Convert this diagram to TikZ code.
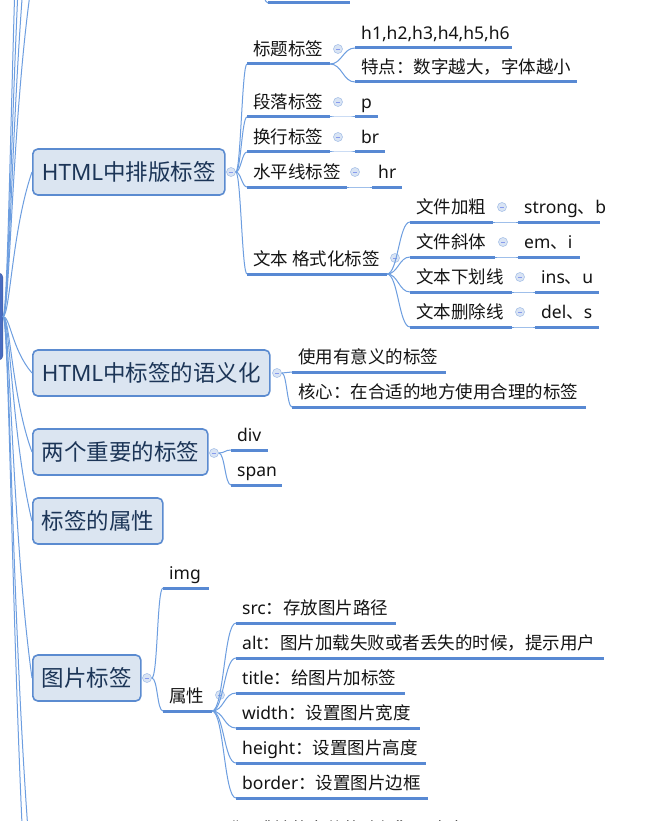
\documentclass[tikz,border=0pt]{standalone}
\usepackage{fontspec}
\setmainfont{Noto Sans}
\newfontfamily\cjkf{Noto Sans CJK SC}
\newcommand\zh[1]{{\cjkf #1}}
\usetikzlibrary{calc}
\definecolor{topicfill}{HTML}{DBE5F1}
\definecolor{topicborder}{HTML}{5B8BD0}
\definecolor{ulblue}{HTML}{5889D3}
\definecolor{connblue}{HTML}{6D9EE0}
\definecolor{topictext}{HTML}{1C3557}
\definecolor{leaftext}{HTML}{141414}
\definecolor{rootblue}{HTML}{4A6CC0}
\definecolor{knobfill}{HTML}{D9E4F4}
\definecolor{knobline}{HTML}{A9C2E8}
\tikzset{
  topic/.style={draw=topicborder, line width=1.6pt, fill=topicfill, rounded corners=5pt,
    text=topictext, font=\fontsize{22.5pt}{26pt}\selectfont, inner sep=0pt, anchor=west, minimum height=46pt},
  leaf/.style={anchor=base west, inner sep=0pt, text=leaftext, font=\fontsize{17.5pt}{21pt}\selectfont},
  ul/.style={draw=ulblue, line width=3pt},
  conn/.style={draw=connblue, line width=1pt},
  knob/.style={circle, draw=knobline, fill=knobfill, line width=0.6pt, minimum size=9pt, inner sep=0pt,
    path picture={\draw[knobline!80!blue, line width=0.6pt]
      ([xshift=-2.2pt]path picture bounding box.center) -- ([xshift=2.2pt]path picture bounding box.center);}}
}
\newcommand\leaf[5]{%
  \coordinate (#1s) at (#2,#4);
  \coordinate (#1e) at (#3,#4);
  \draw[ul] (#1s) -- (#1e);
  \node[leaf] (#1) at ($(#1s)+(6,-8.5)$) {#5};
}
\newcommand\cnx[3]{\draw[conn] (#1) .. controls +(#3,0) and +(-#3,0) .. (#2);}
\newcommand\knob[2]{\node[knob] (#1) at (#2) {};}
\begin{document}
\begin{tikzpicture}[x=1pt,y=-1pt]
\useasboundingbox (0,0) rectangle (664,821);
\clip (0,0) rectangle (664,821);
\fill[white] (0,0) rectangle (664,821);

% root (mostly off-canvas)
\node[draw=rootblue!85!black, fill=rootblue, rounded corners=4pt, minimum width=70pt, minimum height=87pt, anchor=east, inner sep=0pt] (root) at (3,316.5) {};

% off-canvas topics (only connectors visible)
\coordinate (ta) at (32,-20);
\coordinate (tb) at (32,-110);
\coordinate (tc) at (32,-230);
\coordinate (td) at (32,-400);
\coordinate (te) at (32,880);
\coordinate (tf) at (32,1000);

% main topics
\node[topic, minimum width=192pt] (t1) at (32,172) {HTML\zh{中排版标签}};
\node[topic, minimum width=237pt] (t2) at (32,373) {HTML\zh{中标签的语义化}};
\node[topic, minimum width=175pt] (t3) at (32,452) {\zh{两个重要的标签}};
\node[topic, minimum width=130pt] (t4) at (32,521) {\zh{标签的属性}};
\node[topic, minimum width=108pt] (t5) at (32,678) {\zh{图片标签}};

% root connectors
\draw[conn] (root.east) .. controls (10,316) and (12,114) .. (ta);
\draw[conn] (root.east) .. controls (10,316) and (12,60) .. (tb);
\draw[conn] (root.east) .. controls (10,316) and (12,-12) .. (tc);
\draw[conn] (root.east) .. controls (10,316) and (12,-114) .. (td);
\draw[conn] (root.east) .. controls (10,316) and (12,230) .. (t1.west);
\draw[conn] (root.east) .. controls (10,316) and (12,350) .. (t2.west);
\draw[conn] (root.east) .. controls (10,316) and (12,398) .. (t3.west);
\draw[conn] (root.east) .. controls (10,316) and (12,439) .. (t4.west);
\draw[conn] (root.east) .. controls (10,316) and (12,533) .. (t5.west);
\draw[conn] (root.east) .. controls (10,316) and (12,654) .. (te);
\draw[conn] (root.east) .. controls (10,316) and (12,726) .. (tf);

% last child of topic above (cut off)
\coordinate (prevp) at (250,-70);
\leaf{pv}{268}{350}{3}{}
\draw[conn] (prevp) .. controls (262,-30) and (262,3) .. (pvs);

% ---- topic 1 ----
\knob{k1}{231,172}
\leaf{l11}{247}{330}{64}{\zh{标题标签}}
\leaf{l12}{247}{330}{117}{\zh{段落标签}}
\leaf{l13}{247}{330}{152}{\zh{换行标签}}
\leaf{l14}{247}{347}{187}{\zh{水平线标签}}
\leaf{l15}{247}{387}{274}{\zh{文本 格式化标签}}
\knob{k11}{338,49}
\knob{k12}{338,102}
\knob{k13}{338,137}
\knob{k14}{355,172}
\knob{k15}{395,258}
\cnx{k1.east}{l11s}{5}
\cnx{k1.east}{l12s}{5}
\cnx{k1.east}{l13s}{5}
\cnx{k1.east}{l14s}{5}
\cnx{k1.east}{l15s}{5}

\leaf{g1}{355}{512}{48}{h1,h2,h3,h4,h5,h6}
\leaf{g2}{355}{577}{82}{\zh{特点：数字越大，字体越小}}
\leaf{g3}{355}{378}{117}{p}
\leaf{g4}{355}{385}{152}{br}
\leaf{g5}{372}{402}{187}{hr}
\cnx{l11e}{g1s}{12}
\cnx{l11e}{g2s}{12}
\cnx{l12e}{g3s}{10}
\cnx{l13e}{g4s}{10}
\cnx{l14e}{g5s}{10}

\leaf{f1}{410}{493}{222}{\zh{文件加粗}}
\leaf{f2}{410}{495}{257}{\zh{文件斜体}}
\leaf{f3}{410}{512}{292}{\zh{文本下划线}}
\leaf{f4}{410}{512}{327}{\zh{文本删除线}}
\knob{kf1}{502,207}
\knob{kf2}{503,242}
\knob{kf3}{520,277}
\knob{kf4}{520,312}
\cnx{l15e}{f1s}{11}
\cnx{l15e}{f2s}{11}
\cnx{l15e}{f3s}{11}
\cnx{l15e}{f4s}{11}

\leaf{h1}{518}{600}{222}{strong\zh{、}b}
\leaf{h2}{518}{580}{257}{em\zh{、}i}
\leaf{h3}{535}{599}{292}{ins\zh{、}u}
\leaf{h4}{535}{599}{327}{del\zh{、}s}
\cnx{f1e}{h1s}{10}
\cnx{f2e}{h2s}{10}
\cnx{f3e}{h3s}{10}
\cnx{f4e}{h4s}{10}

% ---- topic 2 ----
\knob{k2}{277,373}
\leaf{s1}{292}{446}{372}{\zh{使用有意义的标签}}
\leaf{s2}{292}{586}{407}{\zh{核心：在合适的地方使用合理的标签}}
\cnx{k2.east}{s1s}{5}
\cnx{k2.east}{s2s}{5}

% ---- topic 3 ----
\knob{k3}{214,453}
\leaf{d1}{231}{268}{450}{div}
\leaf{d2}{231}{282}{485}{span}
\cnx{k3.east}{d1s}{6}
\cnx{k3.east}{d2s}{6}

% ---- topic 5 ----
\knob{k5}{147,678}
\leaf{i1}{163}{209}{588}{img}
\leaf{i2}{163}{212}{711}{\zh{属性}}
\knob{ki2}{220,695}
\cnx{k5.east}{i1s}{6}
\cnx{k5.east}{i2s}{6}

\leaf{a1}{236}{396}{623}{src\zh{：存放图片路径}}
\leaf{a2}{236}{604}{658}{alt\zh{：图片加载失败或者丢失的时候，提示用户}}
\leaf{a3}{236}{405}{693}{title\zh{：给图片加标签}}
\leaf{a4}{236}{420}{728}{width\zh{：设置图片宽度}}
\leaf{a5}{236}{426}{763}{height\zh{：设置图片高度}}
\leaf{a6}{236}{428}{798}{border\zh{：设置图片边框}}
\cnx{i2e}{a1s}{12}
\cnx{i2e}{a2s}{12}
\cnx{i2e}{a3s}{12}
\cnx{i2e}{a4s}{12}
\cnx{i2e}{a5s}{12}
\cnx{i2e}{a6s}{12}

% next topic's first child (cut off at bottom, as in the reference)
\leaf{b1}{164}{460}{844}{href\zh{：“需跳转的文件的路径”　内容}}
\end{tikzpicture}
\end{document}
